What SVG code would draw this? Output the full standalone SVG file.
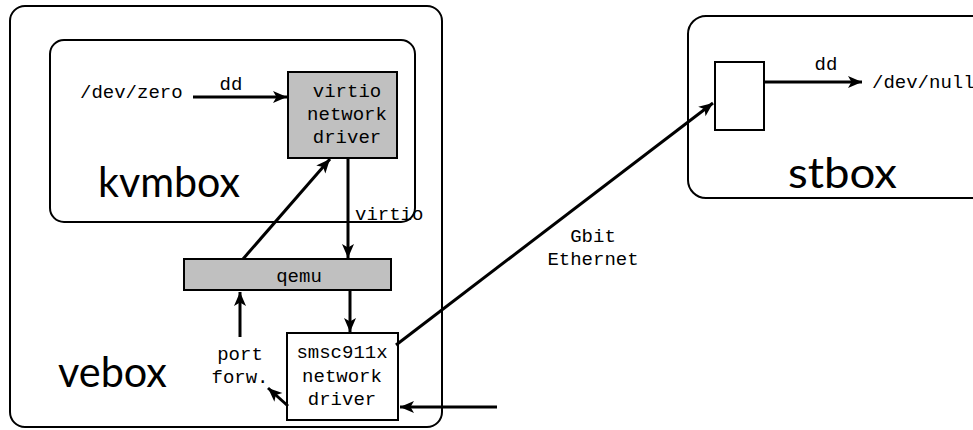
<svg xmlns="http://www.w3.org/2000/svg" width="973" height="430" viewBox="0 0 973 430">
  <style>
    .box { fill: #ffffff; stroke: #000000; stroke-width: 2; }
    .grey { fill: #c0c0c0; stroke: #000000; stroke-width: 2; }
    .conn { fill: none; stroke: #000000; stroke-width: 3; marker-end: url(#head); }
    .mono { font-family: "Liberation Mono", "Courier New", monospace; font-size: 19px; fill: #000000; }
    .big { font-family: Lato, "Open Sans", sans-serif; font-size: 42px; fill: #000000; }
    .mid { text-anchor: middle; }
  </style>
  <defs>
    <marker id="head" markerUnits="userSpaceOnUse" markerWidth="16" markerHeight="14" refX="14" refY="6" orient="auto" overflow="visible">
      <path d="M0,0 L14,6 L0,12 L3.5,6 Z" fill="#000000"/>
    </marker>
  </defs>

  <!-- hosts -->
  <g id="vebox">
    <rect class="box" x="10" y="6" width="432" height="421" rx="15"/>
    <text class="big" x="58" y="387" textLength="109" lengthAdjust="spacingAndGlyphs">vebox</text>
  </g>
  <g id="kvmbox">
    <rect class="box" x="50" y="40" width="365" height="182" rx="14"/>
    <text class="big" x="98" y="197" textLength="142" lengthAdjust="spacingAndGlyphs">kvmbox</text>
  </g>
  <g id="stbox">
    <rect class="box" x="688" y="16" width="320" height="182" rx="18"/>
    <text class="big" x="788" y="188" textLength="109" lengthAdjust="spacingAndGlyphs">stbox</text>
  </g>

  <!-- components -->
  <g id="virtio-driver">
    <rect class="grey" x="288" y="72" width="109" height="86"/>
    <text class="mono mid" x="347" y="97">virtio</text>
    <text class="mono mid" x="347" y="120">network</text>
    <text class="mono mid" x="347" y="143">driver</text>
  </g>
  <g id="qemu">
    <rect class="grey" x="184" y="259" width="207" height="31"/>
    <text class="mono mid" x="299" y="282">qemu</text>
  </g>
  <g id="smsc-driver">
    <rect class="box" x="287" y="333" width="111" height="87"/>
    <text class="mono mid" x="342" y="358">smsc911x</text>
    <text class="mono mid" x="342" y="382">network</text>
    <text class="mono mid" x="342" y="405">driver</text>
  </g>
  <g id="st-nic">
    <rect class="box" x="715" y="62" width="49" height="68"/>
  </g>
  <g id="dev-zero">
    <text class="mono" x="80" y="98">/dev/zero</text>
  </g>
  <g id="dev-null">
    <text class="mono" x="872" y="88">/dev/null</text>
  </g>
  <g id="port-forw">
    <text class="mono mid" x="240" y="360">port</text>
    <text class="mono mid" x="240" y="383">forw.</text>
  </g>

  <!-- connectors -->
  <g id="connectors">
    <path class="conn" d="M193,97 L287,97"/>
    <path class="conn" d="M348,158 L348,258"/>
    <path class="conn" d="M243,259 L330,159"/>
    <path class="conn" d="M350,290 L350,332"/>
    <path class="conn" d="M240,337 L240,292"/>
    <path class="conn" d="M288,406 L268,388"/>
    <path class="conn" d="M497,407 L400,407"/>
    <path class="conn" d="M396,345 L713,103"/>
    <path class="conn" d="M765,82 L862,82"/>
    <text class="mono mid" x="231" y="90">dd</text>
    <text class="mono" x="355" y="220">virtio</text>
    <text class="mono mid" x="593" y="242">Gbit</text>
    <text class="mono mid" x="593" y="265">Ethernet</text>
    <text class="mono mid" x="826" y="70">dd</text>
  </g>
</svg>
